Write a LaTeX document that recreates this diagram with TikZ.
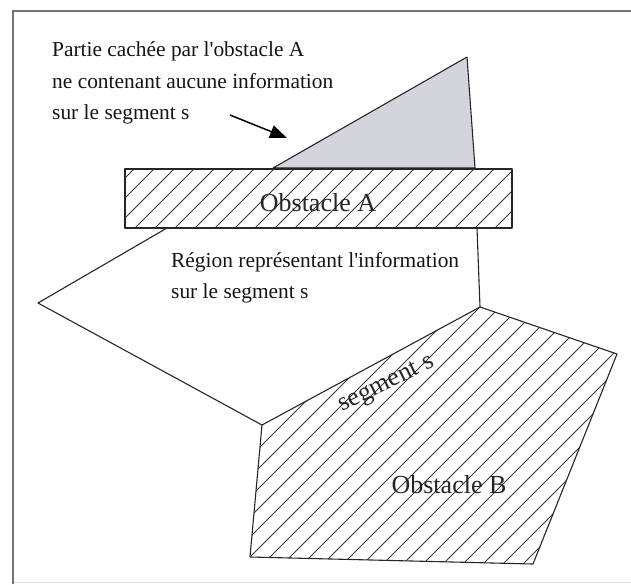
\documentclass[tikz,border=0pt]{standalone}
\usepackage{fontspec}
\setmainfont{Liberation Serif}[Ligatures=TeXOff]
\usetikzlibrary{arrows.meta}
\definecolor{hidden}{RGB}{212,212,221}
\begin{document}
\begin{tikzpicture}[x=1pt,y=-1pt,
  outline/.style={draw=black!85, line width=1.1pt, line join=round},
  hatchline/.style={draw=black!78, line width=0.75pt},
  note/.style={font=\fontsize{21.4}{25}\selectfont, anchor=base west, inner sep=0pt, text=black!92},
  biglabel/.style={font=\fontsize{26}{30}\selectfont, anchor=base, inner sep=0pt, text=black!85},
  framebox/.style={draw=black!55, line width=1.3pt},
]
\useasboundingbox (0,0) rectangle (631,584);
% frame (cropped)
\draw[black!12, line width=0.8pt] (13,582) -- (631,582);
\draw[framebox] (13,584) -- (13,11) -- (631,11);

% hidden part (grey triangle)
\draw[outline, fill=hidden] (273,168) -- (467,57) -- (475,168) -- cycle;

% Obstacle A hatch
\begin{scope}
  \clip (125,169) rectangle (512,228);
  \foreach \k in {-2,...,24} \draw[hatchline] (\k*20+3,300) -- ++(300,-300);
\end{scope}
\draw[outline] (125,169) rectangle (512,228);

% Obstacle B hatch
\begin{scope}
  \clip (480,307) -- (617,354) -- (533,564) -- (250,557) -- (262,425) -- cycle;
  \foreach \k in {-10,...,26} \draw[hatchline] (\k*20+7,700) -- ++(700,-700);
\end{scope}
\draw[outline] (480,307) -- (617,354) -- (533,564) -- (250,557) -- (262,425) -- cycle;

% region representing the information
\draw[outline] (167,228) -- (38,303) -- (262,425);
\draw[outline] (477,228) -- (480,307);

% texts
\node[note] (t1) at (52,56) {Partie cachée par l'obstacle A};
\node[note] (t2) at (52,88) {ne contenant aucune information};
\node[note] (t3) at (52,119) {sur le segment s};
\node[note] (r1) at (171,267) {Région représentant l'information};
\node[note] (r2) at (171,298) {sur le segment s};
\node[biglabel] (oa) at (318,211) {Obstacle A};
\node[biglabel] (ob) at (449,493) {Obstacle B};
\node[biglabel, rotate=26] (ss) at (389,389) {segment s};

% arrow
\coordinate (arrS) at (230,115);
\coordinate (arrE) at (287,138);
\draw[black, line width=1.5pt, -{Triangle[length=17pt,width=13pt]}] (arrS) -- (arrE);
\end{tikzpicture}
\end{document}
